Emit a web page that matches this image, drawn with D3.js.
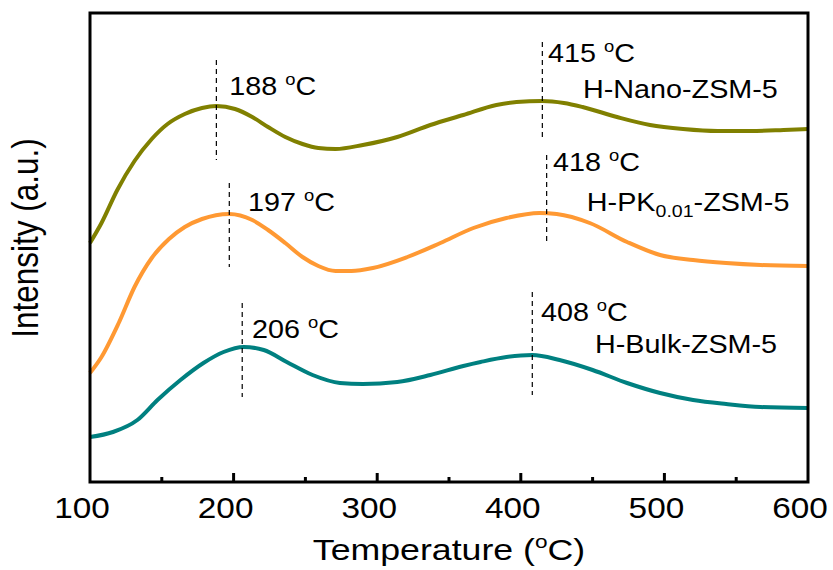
<!DOCTYPE html>
<html>
<head>
<meta charset="utf-8">
<script src="https://d3js.org/d3.v7.min.js"></script>
<style>
  body { margin: 0; background: #fff; }
  text { font-family: "Liberation Sans", Arial, sans-serif; fill: #000; }
</style>
</head>
<body>
<svg id="chart" width="833" height="570"></svg>
<script>
// TPD curves, temperature (oC) and intensity (a.u.)
const nanoT = [100,108,119,131,143,154,166,178,188,201,213,224,236,248,259,271,290,314,337,360,383,397,415,430,443,467,490,513,537,560,583,600];
const nanoI = [239,259,292,321,343,358,368,374,376,373,365,355,345,338,334,333,337,345,357,367,377,380,381,379,375,365,357,353,351,351,352,353];

const pkT = [100,108,120,131,143,155,166,178,197,213,224,236,248,259,271,282,297,321,344,367,390,413,425,448,474,497,520,543,567,600];
const pkI = [109,125,159,195,224,243,255,263,268,262,252,239,225,216,211,211,214,225,239,254,264,269,268,259,240,227,222,219,217,216];

const bulkT = [100,116,133,147,163,179,193,207,221,237,255,274,290,314,337,360,372,390,408,427,450,474,497,520,543,567,600];
const bulkI = [45,50,62,82,102,119,130,135,132,120,107,99,98,100,107,116,120,125,127,122,112,99,89,82,78,75,74];

const seriesNames = ['H-Nano-ZSM-5', 'H-PK0.01-ZSM-5', 'H-Bulk-ZSM-5'];
const seriesColors = ['#808000', '#ff9933', '#008080'];

// peak markers: temperature, dashed line from / to (intensity)
const peakTemps = [188, 415, 197, 418, 206, 408];
const peakLo = [322, 345, 215, 239, 85, 87];
const peakHi = [422, 440, 299, 327, 179, 190];
// peak label anchors
const peakLabelT = [197, 419, 210, 422.4, 212.8, 414];
const peakLabelI = [387, 420, 271, 311, 144, 161];
// series label anchors
const nameT = [443.3, 446, 451.7];
const nameI = [384, 271, 129];

const xTicks = [100, 200, 300, 400, 500, 600];
const xMinor = [150, 250, 350, 450, 550];

const svg = d3.select('#chart');
const pLeft = 90, pRight = 808, pTop = 13, pBottom = 482;
const stretch = 1.15;

const xs = d3.scaleLinear().domain([100, 600]).range([pLeft, pRight]);
const ys = d3.scaleLinear().domain([0, 469]).range([pBottom, pTop]);

// curves
const line = d3.line()
  .x(function(d) { return xs(d[0]); })
  .y(function(d) { return ys(d[1]); })
  .curve(d3.curveMonotoneX);

const allT = [nanoT, pkT, bulkT];
const allI = [nanoI, pkI, bulkI];
for (let s = 0; s < 3; s++) {
  const pts = allT[s].map(function(t, i) { return [t, allI[s][i]]; });
  svg.append('path')
    .attr('d', line(pts))
    .attr('fill', 'none')
    .attr('stroke', seriesColors[s])
    .attr('stroke-width', 4)
    .attr('stroke-linejoin', 'round');
}

// dashed peak lines
svg.append('g').selectAll('line')
  .data(peakTemps)
  .enter()
  .append('line')
    .attr('x1', function(d) { return xs(d); })
    .attr('x2', function(d) { return xs(d); })
    .attr('y1', function(d, i) { return ys(peakHi[i]); })
    .attr('y2', function(d, i) { return ys(peakLo[i]); })
    .attr('stroke', '#000')
    .attr('stroke-width', 1.2)
    .attr('stroke-dasharray', '5,4');

// stretched text helper
function stext(x, y, size, anchor, sx) {
  return svg.append('text')
    .attr('transform', 'translate(' + x + ',' + y + ') scale(' + (sx || stretch) + ',1)')
    .attr('text-anchor', anchor || 'start')
    .style('font-size', size + 'px');
}
function degC(t, before, size) {
  t.append('tspan').text(before);
  t.append('tspan').text('o').style('font-size', (size * 0.64) + 'px').attr('dy', -size * 0.39);
  t.append('tspan').text('C').attr('dy', size * 0.39);
}

peakTemps.forEach(function(p, i) {
  const t = stext(xs(peakLabelT[i]), ys(peakLabelI[i]), 25);
  degC(t, p + ' ', 25);
});

// series names
nameT.forEach(function(n, i) {
  const t = stext(xs(n), ys(nameI[i]), 25);
  if (i === 1) {
    t.append('tspan').text('H-PK');
    t.append('tspan').text('0.01').style('font-size', '17px').attr('dy', 6);
    t.append('tspan').text('-ZSM-5').attr('dy', -6);
  } else {
    t.text(seriesNames[i]);
  }
});

// frame
svg.append('rect')
  .attr('x', pLeft).attr('y', pTop)
  .attr('width', pRight - pLeft).attr('height', pBottom - pTop)
  .attr('fill', 'none')
  .attr('stroke', '#000')
  .attr('stroke-width', 3);

// x ticks (inward)
svg.append('g').selectAll('line')
  .data(xTicks.slice(1, -1))
  .enter()
  .append('line')
    .attr('x1', function(d) { return xs(d); })
    .attr('x2', function(d) { return xs(d); })
    .attr('y1', pBottom).attr('y2', pBottom - 9)
    .attr('stroke', '#000').attr('stroke-width', 3);

svg.append('g').selectAll('line')
  .data(xMinor)
  .enter()
  .append('line')
    .attr('x1', function(d) { return xs(d); })
    .attr('x2', function(d) { return xs(d); })
    .attr('y1', pBottom).attr('y2', pBottom - 5)
    .attr('stroke', '#000').attr('stroke-width', 3);

xTicks.forEach(function(d) {
  stext(xs(d) - 8, 518, 29, 'middle').text(d);
});

// axis titles
const xt = stext(449, 560, 30, 'middle', 1.19);
xt.append('tspan').text('Temperature (');
xt.append('tspan').text('o').style('font-size', '19px').attr('dy', -12);
xt.append('tspan').text('C)').attr('dy', 12);

svg.append('text')
  .attr('transform', 'translate(38,238) rotate(-90) scale(1,' + stretch + ')')
  .attr('text-anchor', 'middle')
  .style('font-size', '31.5px')
  .text('Intensity (a.u.)');
</script>
</body>
</html>
